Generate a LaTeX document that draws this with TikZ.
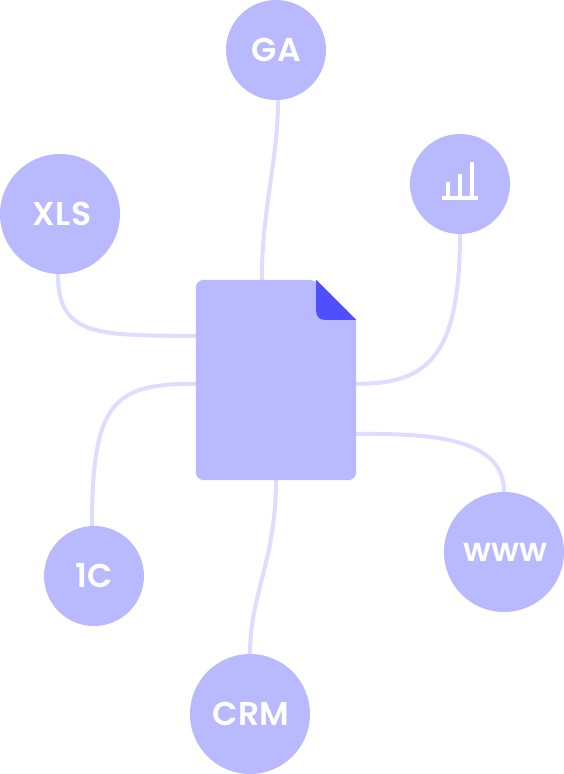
\documentclass[tikz,border=0pt]{standalone}
\usepackage{fontspec}
\setmainfont{Poppins SemiBold}[LetterSpace=1.5]
\usetikzlibrary{calc}
\definecolor{bub}{HTML}{B9B9FF}
\definecolor{wire}{HTML}{DDDDFF}
\definecolor{fold}{HTML}{4F4FFF}
\tikzset{
 x=1pt,y=-1pt,
 hub/.style={circle,fill=bub,inner sep=0pt,text=white,font=\fontsize{33}{33}\selectfont},
 wireline/.style={draw=wire,line width=4pt,line cap=butt},
 docbox/.style={rectangle,inner sep=0pt,minimum width=160pt,minimum height=200pt},
}
\begin{document}
\begin{tikzpicture}
\useasboundingbox (0,0) rectangle (564,774);
\fill[white] (0,0) rectangle (564,774);
\node[docbox] (doc) at (276,380) {};
\node[hub,minimum size=100pt] (ga) at (276,50) {GA};
\node[hub,minimum size=120pt] (xls) at (60,214) {\hspace{4pt}XLS};
\node[hub,minimum size=100pt] (chart) at (460,184) {};
\node[hub,minimum size=120pt] (www) at (504,552) {\hspace{3pt}www};
\node[hub,minimum size=100pt] (onec) at (94,576) {1C};
\node[hub,minimum size=120pt] (crm) at (250,714) {\hspace{2pt}CRM};
\coordinate (dga) at ($(doc.north west)+(66,0)$);
\coordinate (dxls) at ($(doc.north west)+(0,56)$);
\coordinate (dchart) at ($(doc.north east)+(0,104)$);
\coordinate (dwww) at ($(doc.north east)+(0,154)$);
\coordinate (done) at ($(doc.north west)+(0,104)$);
\coordinate (dcrm) at (doc.south);
\coordinate (gab) at ($(ga.south)+(2,0)$);
\coordinate (xlsb) at ($(xls.south)+(-2,0)$);
\coordinate (oneb) at ($(onec.north)+(-2,0)$);
\draw[wireline] (gab) .. controls ($(gab)+(0,60)$) and ($(dga)+(0,-70)$) .. (dga);
\draw[wireline] (xlsb) .. controls ($(xlsb)+(0,61)$) and ($(dxls)+(-101,0)$) .. (dxls);
\draw[wireline] (chart.south) .. controls ($(chart.south)+(0,126)$) and ($(dchart)+(69,0)$) .. (dchart);
\draw[wireline] (www.north) .. controls ($(www.north)+(0,-56)$) and ($(dwww)+(70,0)$) .. (dwww);
\draw[wireline] (oneb) .. controls ($(oneb)+(0,-126)$) and ($(done)+(-81,0)$) .. (done);
\draw[wireline] (dcrm) .. controls ($(dcrm)+(0,80)$) and ($(crm.north)+(0,-60)$) .. (crm.north);
\fill[bub,rounded corners=8pt] (doc.south west) -- (doc.north west) -- ($(doc.north east)+(-40,0)$) [sharp corners] -- ($(doc.north east)+(0,40)$) [rounded corners=8pt] -- (doc.south east) -- cycle;
\fill[fold] ($(doc.north east)+(-40,0)$) -- ($(doc.north east)+(0,40)$) -- ($(doc.north east)+(-32,40)$) .. controls ($(doc.north east)+(-36.4,40)$) and ($(doc.north east)+(-40,36.4)$) .. ($(doc.north east)+(-40,32)$) -- cycle;
% chart icon
\fill[white] (442,196) rectangle (478,200);
\fill[white] (446,182) rectangle (450,196);
\fill[white] (458,174) rectangle (462,196);
\fill[white] (470,162) rectangle (474,196);
\end{tikzpicture}
\end{document}
